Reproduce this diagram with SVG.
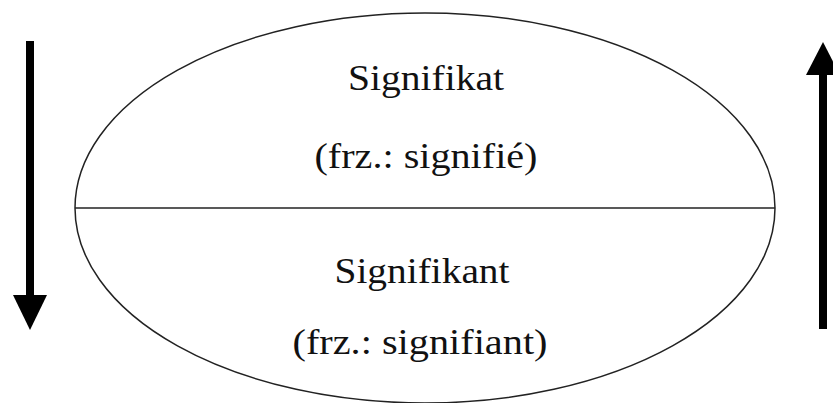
<svg xmlns="http://www.w3.org/2000/svg" width="833" height="403" viewBox="0 0 833 403">
<style>
.t{font-family:"Liberation Serif","Times New Roman",serif;font-size:35px;fill:#111;text-anchor:middle}
.o{fill:none;stroke:#222;stroke-width:1.5}
.a{fill:#000}
</style>
<rect width="833" height="403" fill="#fff"/>
<g id="sign">
<ellipse class="o" cx="425" cy="208" rx="350" ry="195"/>
<line class="o" x1="75" y1="208" x2="775" y2="208"/>
</g>
<g id="signifikat">
<text class="t" x="426" y="90" textLength="156" lengthAdjust="spacingAndGlyphs">Signifikat</text>
<text class="t" x="426" y="168" textLength="223" lengthAdjust="spacingAndGlyphs">(frz.: signifié)</text>
</g>
<g id="signifikant">
<text class="t" x="422" y="283" textLength="175" lengthAdjust="spacingAndGlyphs">Signifikant</text>
<text class="t" x="420" y="354" textLength="255" lengthAdjust="spacingAndGlyphs">(frz.: signifiant)</text>
</g>
<g id="connectors">
<g id="arrow-down">
<rect class="a" x="26" y="41" width="8" height="260"/>
<polygon class="a" points="13,295 47,295 30,330"/>
</g>
<g id="arrow-up">
<rect class="a" x="819" y="72" width="8" height="257"/>
<polygon class="a" points="806,75 840,75 823,42"/>
</g>
</g>
</svg>
